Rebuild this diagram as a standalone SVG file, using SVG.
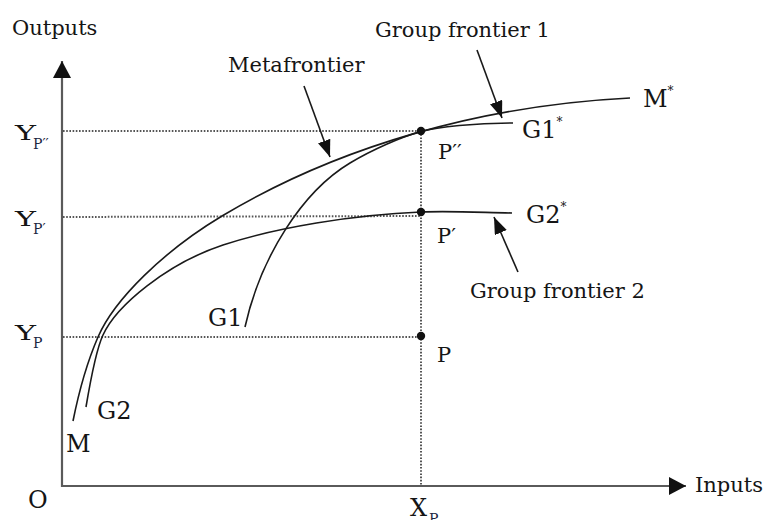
<svg xmlns="http://www.w3.org/2000/svg" width="771" height="520" viewBox="0 0 771 520">
  <defs>
    <marker id="head" viewBox="0 0 17 13" refX="17" refY="6.5" markerWidth="17" markerHeight="13" markerUnits="userSpaceOnUse" orient="auto">
      <path d="M0,0 L17,6.5 L0,13 Z" fill="#111"/>
    </marker>
    <marker id="axisHead" viewBox="0 0 17 18" refX="17" refY="9" markerWidth="17" markerHeight="18" markerUnits="userSpaceOnUse" orient="auto">
      <path d="M0,0 L17,9 L0,18 Z" fill="#111"/>
    </marker>
    <style>
      .axis { stroke: #5a5a5a; stroke-width: 2.2; fill: none; }
      .guide { stroke: #555; stroke-width: 2; stroke-dasharray: 1.6 1.6; fill: none; }
      .curve { stroke: #1a1a1a; stroke-width: 1.6; fill: none; }
      .ptr { stroke: #1a1a1a; stroke-width: 1.6; fill: none; marker-end: url(#head); }
      .t { font-family: "DejaVu Serif", "Liberation Serif", serif; fill: #151515; }
      .sm { font-size: 21px; }
      .big { font-size: 24px; }
      .ylab { font-size: 21px; }
      .sub { font-size: 14px; fill: #1b2540; }
      .star { font-size: 12px; }
      .dot { fill: #111; }
    </style>
  </defs>

  <g id="axes">
    <line class="axis" x1="62" y1="487" x2="62" y2="61" marker-end="url(#axisHead)"/>
    <line class="axis" x1="61" y1="486" x2="686" y2="486" marker-end="url(#axisHead)"/>
  </g>

  <g id="guides">
    <line class="guide" x1="63" y1="131" x2="421" y2="131"/>
    <line class="guide" x1="63" y1="217" x2="421" y2="216"/>
    <line class="guide" x1="63" y1="337" x2="421" y2="337"/>
    <line class="guide" x1="421" y1="131" x2="421" y2="485"/>
  </g>

  <g id="curves">
    <path id="metafrontier" class="curve" d="M73,421 C78.9,391.6 88.9,358 98,337 C114.4,299.2 164,250.8 222,216 C337.4,146.8 480.2,105.5 630,98"/>
    <path id="group1" class="curve" d="M245,327 C260.5,257 302.5,191.4 350,163 C372.7,149.4 401.1,137.1 421,131.5 C438.2,126.7 475,123 513,123"/>
    <path id="group2" class="curve" d="M86,407 C91.5,374.2 98.1,345.4 103,335 C116.5,305.4 167.1,263.5 223,245 C275,227.8 354.2,214.6 421,212 C451,210.8 482,212.5 512,213"/>
  </g>

  <g id="points">
    <circle class="dot" cx="421" cy="131" r="4.2"/>
    <circle class="dot" cx="421" cy="212" r="4.2"/>
    <circle class="dot" cx="421" cy="336" r="4.2"/>
  </g>

  <g id="connectors">
    <line class="ptr" x1="304" y1="86" x2="330" y2="157"/>
    <line class="ptr" x1="477" y1="50" x2="502" y2="118"/>
    <line class="ptr" x1="518" y1="272" x2="494" y2="217"/>
  </g>

  <g id="labels">
    <text class="t sm" x="12" y="35">Outputs</text>
    <text class="t sm" x="695" y="492">Inputs</text>
    <text class="t sm" x="228" y="72">Metafrontier</text>
    <text class="t sm" x="375" y="37">Group frontier 1</text>
    <text class="t sm" x="470" y="298">Group frontier 2</text>
    <text class="t big" x="28" y="508">O</text>
    <text class="t big" x="66" y="452">M</text>
    <text class="t big" x="97" y="419">G2</text>
    <text class="t big" x="208" y="326">G1</text>
    <text class="t big" x="643" y="107">M<tspan class="star" dy="-12">*</tspan></text>
    <text class="t big" x="522" y="138">G1<tspan class="star" dy="-12">*</tspan></text>
    <text class="t big" x="526" y="223">G2<tspan class="star" dy="-12">*</tspan></text>
    <text class="t sm" x="438" y="159">P′′</text>
    <text class="t sm" x="437" y="243">P′</text>
    <text class="t sm" x="437" y="362">P</text>
    <text class="t ylab" x="15" y="140" textLength="21" lengthAdjust="spacingAndGlyphs">Y</text>
    <text class="t sub" x="33" y="149">P′′</text>
    <text class="t ylab" x="15" y="226" textLength="21" lengthAdjust="spacingAndGlyphs">Y</text>
    <text class="t sub" x="33" y="234">P′</text>
    <text class="t ylab" x="15" y="340" textLength="21" lengthAdjust="spacingAndGlyphs">Y</text>
    <text class="t sub" x="33" y="348">P</text>
    <text class="t big" x="410" y="516">X</text>
    <text class="t sub" x="429" y="524">P</text>
  </g>
</svg>
